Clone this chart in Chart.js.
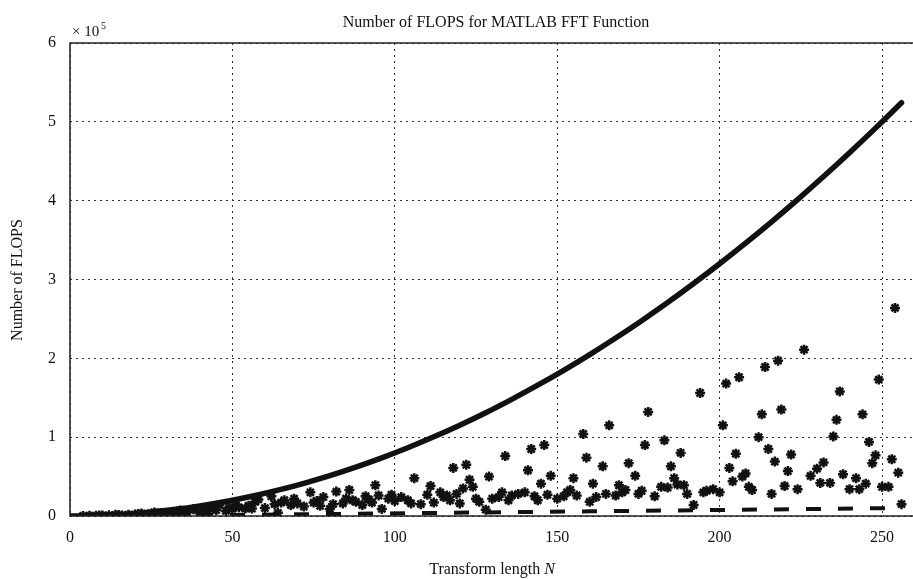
<!DOCTYPE html>
<html>
<head>
<meta charset="utf-8">
<script src="https://cdn.jsdelivr.net/npm/chart.js@4/dist/chart.umd.min.js"></script>
<style>
  body { margin: 0; background: #fff; overflow: hidden; }
</style>
</head>
<body>
<canvas id="flops-chart" width="922" height="579"></canvas>
<script>
// upper bound curve (solid line)
const curveN = [0, 8, 16, 24, 32, 40, 48, 56, 64, 72, 80, 88, 96, 104, 112, 120, 128,
  136, 144, 152, 160, 168, 176, 184, 192, 200, 208, 216, 224, 232, 240, 248, 256];
const curveFlops = [0, 500, 2000, 4600, 8200, 12800, 18400, 25100, 32800, 41500, 51200,
  62000, 73700, 86500, 100400, 115200, 131000, 148000, 165900, 184800, 204800, 225800,
  247800, 270800, 294900, 320000, 346100, 373200, 401400, 430600, 460800, 492000, 524300];

// lower bound (dashed line)
const dashN = [0, 32, 64, 96, 128, 160, 192, 224, 256];
const dashFlops = [0, 800, 1900, 3200, 4500, 5900, 7300, 8700, 10200];

// measured flops of fft for each transform length (asterisks)
const fftN = [4, 6, 8, 9, 10, 12, 14, 15, 16, 18, 20, 21, 22, 24, 25, 26, 27, 28, 30, 32,
  33, 34, 35, 36, 38, 39, 40, 42, 44, 45, 46, 48, 49, 50, 51, 52, 54, 55, 56, 57, 58, 60,
  62, 63, 64, 65, 66, 68, 69, 70, 72, 74, 75, 76, 77, 78, 80, 81, 82, 84, 85, 86, 87, 88,
  90, 91, 92, 93, 94, 95, 96, 98, 99, 100, 102, 104, 105, 106, 108, 110, 111, 112, 114,
  115, 116, 117, 118, 119, 120, 121, 122, 123, 124, 125, 126, 128, 129, 130, 132, 133,
  134, 135, 136, 138, 140, 141, 142, 143, 144, 145, 146, 147, 148, 150, 152, 153, 154,
  155, 156, 158, 159, 160, 161, 162, 164, 165, 166, 168, 169, 170, 171, 172, 174, 175,
  176, 177, 178, 180, 182, 183, 184, 185, 186, 187, 188, 189, 190, 192, 194, 195, 196,
  198, 200, 201, 202, 203, 204, 205, 206, 207, 208, 209, 210, 212, 213, 214, 215, 216,
  217, 218, 219, 220, 221, 222, 224, 226, 228, 230, 231, 232, 234, 235, 236, 237, 238,
  240, 242, 243, 244, 245, 246, 247, 248, 249, 250, 252, 253, 254, 255, 256];
const fftFlops = [100, 300, 200, 600, 700, 800, 1500, 1300, 600, 1700, 1800, 2600, 3200,
  2200, 2900, 4400, 3000, 3800, 3800, 1500, 5800, 7000, 5500, 4800, 8500, 7800, 5400,
  7000, 8800, 7500, 14000, 6500, 10500, 9000, 14500, 11000, 9500, 13000, 9500, 18000,
  21000, 10000, 25000, 15000, 4000, 17000, 20000, 14000, 22000, 16000, 12000, 30000,
  17000, 19000, 13000, 24000, 9000, 15000, 31000, 16000, 22000, 33000, 20000, 18000,
  14000, 25000, 21000, 17000, 39000, 26000, 9000, 22000, 27000, 19000, 24000, 20000,
  16000, 48000, 15000, 27000, 38000, 17000, 30000, 24000, 26000, 20000, 61000, 28000,
  16000, 35000, 65000, 46000, 37000, 22000, 18000, 8000, 50000, 22000, 24000, 30000,
  76000, 20000, 26000, 28000, 30000, 58000, 85000, 25000, 20000, 41000, 90000, 27000,
  51000, 22000, 25000, 30000, 33000, 48000, 26000, 104000, 74000, 18000, 41000, 24000,
  63000, 28000, 115000, 26000, 39000, 30000, 33000, 67000, 51000, 28000, 32000, 90000,
  132000, 25000, 37000, 96000, 36000, 63000, 48000, 40000, 80000, 39000, 28000, 14000,
  156000, 30000, 32000, 34000, 30000, 115000, 168000, 61000, 44000, 79000, 176000, 50000,
  54000, 37000, 33000, 100000, 129000, 189000, 85000, 28000, 69000, 197000, 135000,
  38000, 57000, 78000, 34000, 211000, 51000, 60000, 42000, 68000, 42000, 101000, 122000,
  158000, 53000, 34000, 48000, 34000, 129000, 41000, 94000, 67000, 77000, 173000, 37000,
  37000, 72000, 264000, 55000, 15000];

const serif = '"Liberation Serif", "DejaVu Serif", serif';

function pairs(xs, ys) {
  return xs.map((x, i) => ({ x: x, y: ys[i] }));
}

// titles, x10^5 label and the solid axis box
const framePlugin = {
  id: 'frame',
  afterDraw(chart) {
    const c = chart.ctx;
    const a = chart.chartArea;
    c.save();
    c.strokeStyle = '#222';
    c.lineWidth = 1.5;
    c.beginPath();
    c.moveTo(a.right, a.top);
    c.lineTo(a.left, a.top);
    c.lineTo(a.left, a.bottom);
    c.lineTo(a.right, a.bottom);
    c.stroke();

    c.fillStyle = '#111';
    c.textBaseline = 'alphabetic';
    c.textAlign = 'center';
    c.font = '16px ' + serif;
    c.fillText('Number of FLOPS for MATLAB FFT Function', 496, 27);

    c.textAlign = 'left';
    c.font = '15px ' + serif;
    c.fillText('\u00d7 10', 72, 36);
    c.font = '10px ' + serif;
    c.fillText('5', 101, 29);

    c.font = '16px ' + serif;
    const label = 'Transform length ';
    const w1 = c.measureText(label).width;
    c.font = 'italic 16px ' + serif;
    const w2 = c.measureText('N').width;
    const x0 = 492 - (w1 + w2) / 2;
    c.font = '16px ' + serif;
    c.fillText(label, x0, 574);
    c.font = 'italic 16px ' + serif;
    c.fillText('N', x0 + w1, 574);

    c.translate(22, 280);
    c.rotate(-Math.PI / 2);
    c.textAlign = 'center';
    c.font = '16px ' + serif;
    c.fillText('Number of FLOPS', 0, 0);
    c.restore();
  }
};

const ctx = document.getElementById('flops-chart').getContext('2d');
const flopsChart = new Chart(ctx, {
  type: 'scatter',
  data: {
    datasets: [
      {
        type: 'line',
        data: pairs(curveN, curveFlops),
        borderColor: '#111',
        borderWidth: 5.5,
        borderCapStyle: 'round',
        pointRadius: 0,
        cubicInterpolationMode: 'monotone',
        order: 1
      },
      {
        type: 'line',
        data: pairs(dashN, dashFlops),
        borderColor: '#111',
        borderWidth: 4,
        borderDash: [15, 17],
        pointRadius: 0,
        order: 2
      },
      {
        data: pairs(fftN, fftFlops),
        pointStyle: 'star',
        pointRadius: 5,
        borderWidth: 2.5,
        borderColor: '#111',
        backgroundColor: '#111',
        order: 0
      }
    ]
  },
  options: {
    responsive: false,
    animation: false,
    layout: { padding: { top: 43, right: 0, left: 0, bottom: 0 } },
    plugins: {
      legend: { display: false },
      tooltip: { enabled: false }
    },
    scales: {
      x: {
        type: 'linear',
        min: 0,
        max: 260,
        afterFit(scale) { scale.height = 63; },
        ticks: {
          stepSize: 50,
          includeBounds: false,
          padding: 12,
          color: '#111',
          font: { family: serif, size: 16 }
        },
        grid: {
          color: '#333',
          lineWidth: 1,
          drawTicks: false
        },
        border: { display: false, dash: [2, 4] }
      },
      y: {
        min: 0,
        max: 600000,
        afterFit(scale) { scale.width = 70; },
        ticks: {
          stepSize: 100000,
          padding: 14,
          color: '#111',
          font: { family: serif, size: 16 },
          callback: (v) => v / 100000
        },
        grid: {
          color: '#333',
          lineWidth: 1,
          drawTicks: false
        },
        border: { display: false, dash: [2, 4] }
      }
    }
  },
  plugins: [framePlugin]
});
</script>
</body>
</html>
